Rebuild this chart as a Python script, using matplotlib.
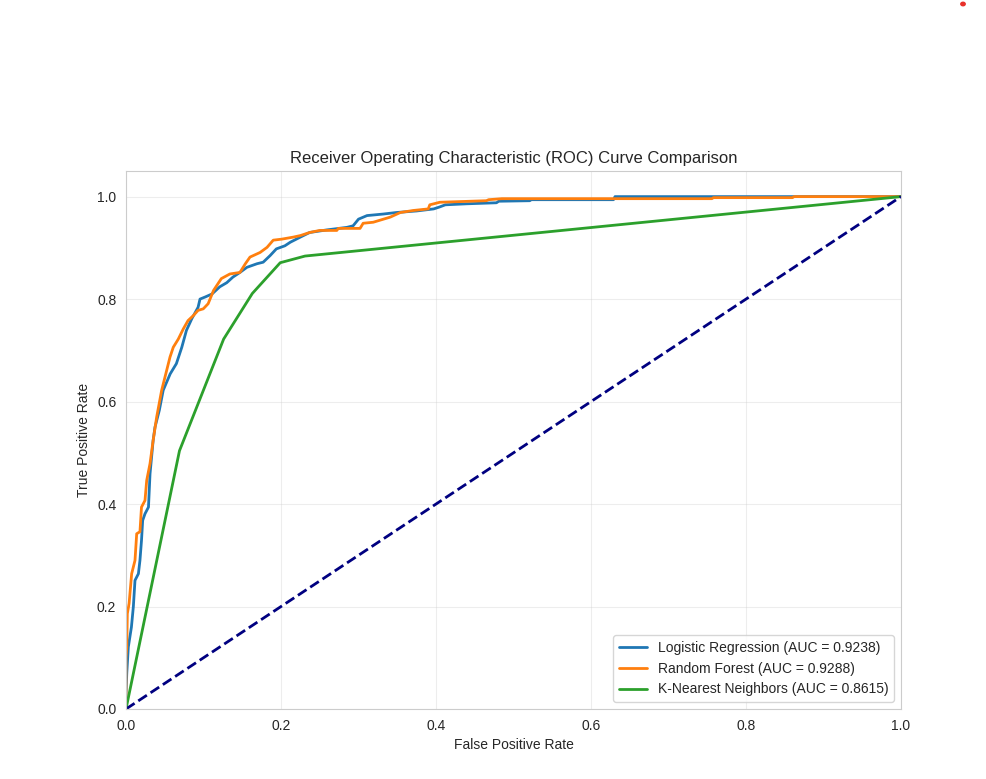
import matplotlib
matplotlib.use("Agg")
import matplotlib.pyplot as plt
import seaborn as sns
from matplotlib.patches import Circle

# ---- data ----
lr_fpr = [0, 0.0, 0.001, 0.003, 0.007, 0.0095, 0.0116, 0.016, 0.018, 0.020, 0.0215, 0.0245, 0.029,
          0.031, 0.035, 0.0374, 0.043, 0.048, 0.057, 0.065, 0.072, 0.078, 0.085, 0.093, 0.0955,
          0.102, 0.111, 0.121, 0.130, 0.138, 0.147, 0.156, 0.169, 0.177, 0.186, 0.194, 0.205,
          0.212, 0.225, 0.237, 0.259, 0.285, 0.293, 0.300, 0.311, 0.332, 0.349, 0.375, 0.397,
          0.405, 0.412, 0.44, 0.478, 0.481, 0.521, 0.523, 0.629, 0.631, 1.0]
lr_tpr = [0, 0.03, 0.07, 0.121, 0.16, 0.20, 0.251, 0.264, 0.29, 0.329, 0.368, 0.381, 0.394,
          0.459, 0.524, 0.55, 0.583, 0.622, 0.654, 0.674, 0.706, 0.739, 0.762, 0.784, 0.800,
          0.804, 0.810, 0.824, 0.832, 0.843, 0.852, 0.862, 0.869, 0.872, 0.885, 0.898, 0.904,
          0.911, 0.921, 0.930, 0.935, 0.940, 0.943, 0.956, 0.963, 0.966, 0.969, 0.972, 0.976,
          0.980, 0.984, 0.986, 0.988, 0.991, 0.992, 0.994, 0.994, 1.0, 1.0]

rf_fpr = [0, 0.0, 0.001, 0.0017, 0.004, 0.0073, 0.0116, 0.0138, 0.018, 0.020, 0.0245, 0.0267,
          0.031, 0.035, 0.0396, 0.046, 0.0525, 0.0568, 0.061, 0.0675, 0.074, 0.080, 0.087, 0.093,
          0.0997, 0.106, 0.113, 0.123, 0.134, 0.147, 0.154, 0.160, 0.173, 0.182, 0.190, 0.201,
          0.216, 0.225, 0.237, 0.250, 0.272, 0.274, 0.302, 0.306, 0.319, 0.341, 0.354, 0.371,
          0.390, 0.392, 0.405, 0.465, 0.468, 0.485, 0.756, 0.758, 0.86, 0.862, 1.0]
rf_tpr = [0, 0.10, 0.121, 0.186, 0.206, 0.264, 0.29, 0.342, 0.346, 0.394, 0.407, 0.446,
          0.479, 0.524, 0.570, 0.622, 0.661, 0.687, 0.706, 0.722, 0.742, 0.758, 0.768, 0.778,
          0.781, 0.791, 0.817, 0.840, 0.849, 0.852, 0.869, 0.882, 0.891, 0.901, 0.915, 0.917,
          0.921, 0.924, 0.930, 0.934, 0.934, 0.938, 0.938, 0.948, 0.950, 0.960, 0.969, 0.973,
          0.976, 0.984, 0.989, 0.992, 0.994, 0.996, 0.996, 0.998, 0.998, 1.0, 1.0]

knn_fpr = [0, 0.069, 0.126, 0.163, 0.199, 0.231, 1.0]
knn_tpr = [0, 0.504, 0.722, 0.811, 0.871, 0.884, 1.0]

model_names = ["Logistic Regression", "Random Forest", "K-Nearest Neighbors"]
auc_values = [0.9238, 0.9288, 0.8615]

# ---- plot ----
sns.set_style("whitegrid")
plt.rcParams['font.family'] = ['Liberation Sans', 'DejaVu Sans']

W, H = 987, 779
fig = plt.figure(figsize=(W / 100, H / 100), dpi=100)
ax = fig.add_axes([126 / W, (H - 709) / H, (901 - 126) / W, (709 - 171) / H])

colors = ["#1f77b4", "#ff7f0e", "#2ca02c"]
curves = [(lr_fpr, lr_tpr), (rf_fpr, rf_tpr), (knn_fpr, knn_tpr)]
for (fx, ty), name, auc, c in zip(curves, model_names, auc_values, colors):
    ax.plot(fx, ty, color=c, lw=2, label=f"{name} (AUC = {auc:.4f})")

ax.plot([0, 1], [0, 1], color="navy", lw=2, linestyle="--")

ax.set_xlim(0.0, 1.0)
ax.set_ylim(0.0, 1.05)
ax.set_xlabel("False Positive Rate")
ax.set_ylabel("True Positive Rate")
ax.set_title("Receiver Operating Characteristic (ROC) Curve Comparison", fontsize=12)
ax.grid(True, alpha=0.35)
ax.legend(loc="lower right")

fig.add_artist(Circle((963 / W, 1 - 4 / H), 2.2 / W, color="#e8302a", transform=fig.transFigure))

fig.savefig("out.png", dpi=100)
